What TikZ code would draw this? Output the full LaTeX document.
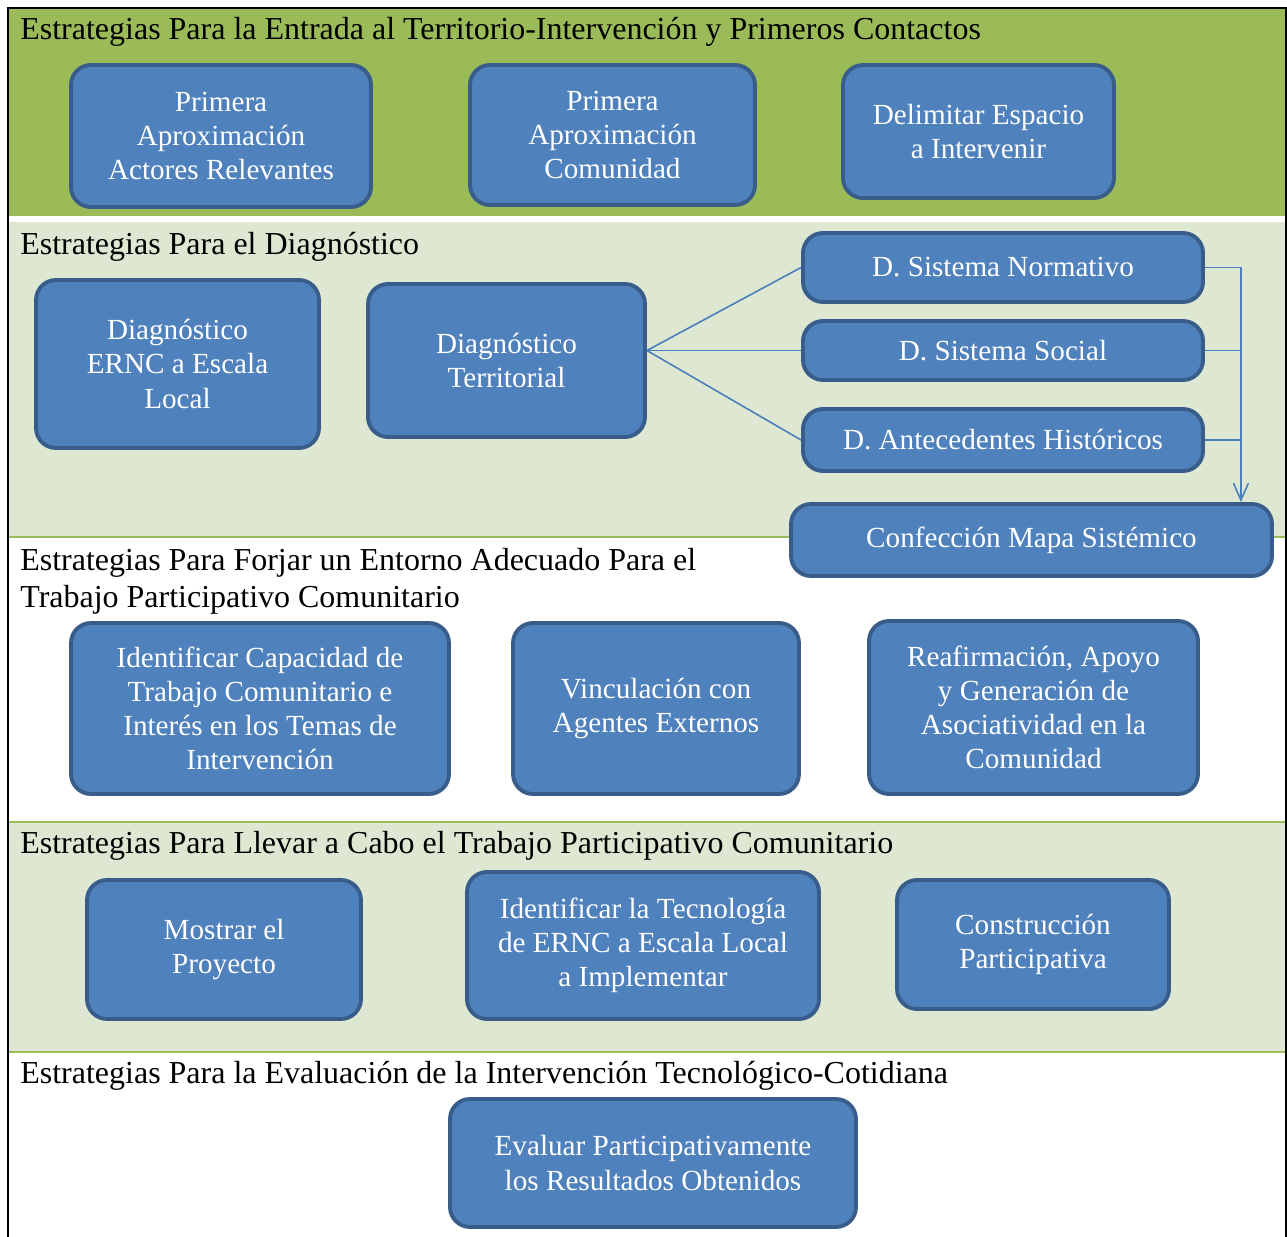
\documentclass[tikz,border=0pt]{standalone}
\usepackage{fontspec}
\setmainfont{Liberation Serif}
\usetikzlibrary{arrows.meta,positioning,calc}
\definecolor{bandgreen}{HTML}{9BBB59}
\definecolor{bandlight}{HTML}{DEE7D1}
\definecolor{boxblue}{HTML}{4F81BD}
\definecolor{boxedge}{HTML}{385D8A}
\definecolor{linkblue}{HTML}{4A7EBB}

\begin{document}
\begin{tikzpicture}[>={Straight Barb[length=0.34cm,width=0.3cm]},
    blk/.style={draw=boxedge, fill=boxblue, line width=2.2pt, rounded corners=0.4cm,
      text=white, align=center, inner sep=0pt, font=\fontsize{16.6}{19.4}\selectfont},
    head/.style={anchor=base west, inner sep=0pt, align=left, font=\fontsize{18.2}{21}\selectfont},
    link/.style={draw=linkblue, line width=0.9pt}]
  \useasboundingbox (0,0) rectangle (25.74,-24.74);
  % bands
  \fill[bandgreen] (0.17,-0.16) rectangle (25.71,-4.32);
  \fill[bandlight] (0.17,-4.44) rectangle (25.71,-10.74);
  \fill[bandlight] (0.17,-16.44) rectangle (25.71,-21.04);
  \draw[bandgreen, line width=1.2pt] (0.17,-10.74) -- (25.71,-10.74);
  \draw[bandgreen, line width=1.2pt] (0.17,-16.44) -- (25.71,-16.44);
  \draw[bandgreen, line width=1.2pt] (0.17,-21.04) -- (25.71,-21.04);
  \draw[line width=1.4pt] (0.16,-24.74) -- (0.16,-0.16) -- (25.72,-0.16) -- (25.72,-24.74);

  % titles
  \node[head] (h1) at (0.4,-0.80) {Estrategias Para la Entrada al Territorio-Intervención y Primeros Contactos};
  \node[head] (h2) at (0.4,-5.08) {Estrategias Para el Diagnóstico};
  \node[head] (h3) at (0.4,-12.14) {Estrategias Para Forjar un Entorno Adecuado Para el\\Trabajo Participativo Comunitario};
  \node[head] (h4) at (0.4,-17.06) {Estrategias Para Llevar a Cabo el Trabajo Participativo Comunitario};
  \node[head] (h5) at (0.4,-21.66) {Estrategias Para la Evaluación de la Intervención Tecnológico-Cotidiana};

  % entrada
  \node[blk, minimum width=6.0cm, minimum height=2.84cm] (a1) at (4.42,-2.72) {Primera\\Aproximación\\Actores Relevantes};
  \node[blk, minimum width=5.7cm, minimum height=2.8cm] (a2) at (12.25,-2.70) {Primera\\Aproximación\\Comunidad};
  \node[blk, minimum width=5.42cm, minimum height=2.66cm] (a3) at (19.57,-2.63) {Delimitar Espacio\\a Intervenir};

  % diagnostico
  \node[blk, minimum width=5.66cm, minimum height=3.36cm] (b1) at (3.55,-7.28) {Diagnóstico\\ERNC a Escala\\Local};
  \node[blk, minimum width=5.54cm, minimum height=3.06cm] (b2) at (10.13,-7.21) {Diagnóstico\\Territorial};
  \node[blk, minimum width=8.0cm, minimum height=1.38cm] (b3_1) at (20.06,-5.35) {D. Sistema Normativo};
  \node[blk, minimum width=8.0cm, minimum height=1.18cm] (b3_2) at (20.06,-7.01) {D. Sistema Social};
  \node[blk, minimum width=8.0cm, minimum height=1.24cm] (b3_3) at (20.06,-8.80) {D. Antecedentes Históricos};
  \node[blk, minimum width=9.62cm, minimum height=1.44cm] (b4) at (20.63,-10.80) {Confección Mapa Sistémico};
  \draw[link] (b2.east |- b3_2) -- (b3_1.west);
  \draw[link] (b2.east |- b3_2) -- (b3_2.west);
  \draw[link] (b2.east |- b3_2) -- (b3_3.west);
  \draw[link, ->] (b3_1.east) -- ++(0.72,0) coordinate (bus) -- (bus |- b4.north);
  \draw[link] (b3_2.east) -- (b3_2.east -| bus);
  \draw[link] (b3_3.east) -- (b3_3.east -| bus);

  % entorno
  \node[blk, minimum width=7.56cm, minimum height=3.42cm] (c1) at (5.20,-14.17) {Identificar Capacidad de\\Trabajo Comunitario e\\Interés en los Temas de\\Intervención};
  \node[blk, minimum width=5.72cm, minimum height=3.42cm] (c2) at (13.12,-14.17) {Vinculación con\\Agentes Externos};
  \node[blk, minimum width=6.58cm, minimum height=3.46cm] (c3) at (20.67,-14.15) {Reafirmación, Apoyo\\y Generación de\\Asociatividad en la\\Comunidad};

  % trabajo
  \node[blk, minimum width=5.48cm, minimum height=2.78cm] (d1) at (4.48,-18.99) {Mostrar el\\Proyecto};
  \node[blk, minimum width=7.04cm, minimum height=2.94cm] (d2) at (12.86,-18.91) {Identificar la Tecnología\\de ERNC a Escala Local\\a Implementar};
  \node[blk, minimum width=5.44cm, minimum height=2.58cm] (d3) at (20.66,-18.89) {Construcción\\Participativa};

  % evaluacion
  \node[blk, minimum width=8.12cm, minimum height=2.56cm] (e1) at (13.06,-23.26) {Evaluar Participativamente\\los Resultados Obtenidos};
\end{tikzpicture}
\end{document}
